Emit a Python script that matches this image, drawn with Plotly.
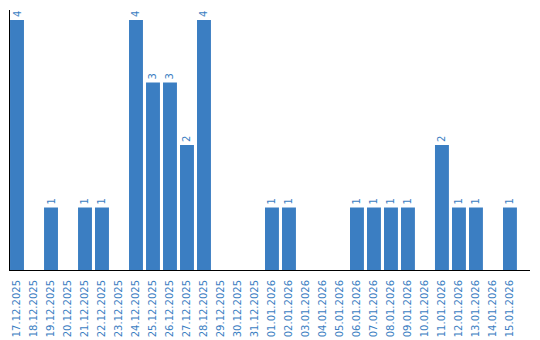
import plotly.graph_objects as go

dates = ["17.12.2025", "18.12.2025", "19.12.2025", "20.12.2025", "21.12.2025",
         "22.12.2025", "23.12.2025", "24.12.2025", "25.12.2025", "26.12.2025",
         "27.12.2025", "28.12.2025", "29.12.2025", "30.12.2025", "31.12.2025",
         "01.01.2026", "02.01.2026", "03.01.2026", "04.01.2026", "05.01.2026",
         "06.01.2026", "07.01.2026", "08.01.2026", "09.01.2026", "10.01.2026",
         "11.01.2026", "12.01.2026", "13.01.2026", "14.01.2026", "15.01.2026"]
counts = [4, 0, 1, 0, 1, 1, 0, 4, 3, 3, 2, 4, 0, 0, 0,
          1, 1, 0, 0, 0, 1, 1, 1, 1, 0, 2, 1, 1, 0, 1]

BLUE = "#3b7ec2"
idx = list(range(len(dates)))
labels = [str(c) if c > 0 else "" for c in counts]

fig = go.Figure(go.Bar(
    x=idx, y=counts, width=0.82,
    marker=dict(color=BLUE, line=dict(width=0)),
    text=labels, textposition="outside", textangle=-90,
    textfont=dict(family="DejaVu Sans", size=10, color=BLUE),
    cliponaxis=False,
))

fig.update_layout(
    width=540, height=340,
    margin=dict(l=10, r=10, t=10, b=70),
    plot_bgcolor="white", paper_bgcolor="white",
    showlegend=False,
)
fig.update_xaxes(
    range=[-0.412, 30.18], tickmode="array", tickvals=idx, ticktext=dates,
    tickangle=-90, tickfont=dict(family="DejaVu Sans", size=10, color=BLUE),
    ticklabelstandoff=5, automargin=False,
    showgrid=False, zeroline=False, showline=True, linecolor="black", linewidth=1,
    ticks="", layer="below traces",
)
fig.update_yaxes(
    range=[0, 4.16], showticklabels=False, showgrid=False, zeroline=False,
    automargin=False,
    showline=True, linecolor="black", linewidth=1, ticks="", layer="below traces",
)

fig.write_html("out.html")
